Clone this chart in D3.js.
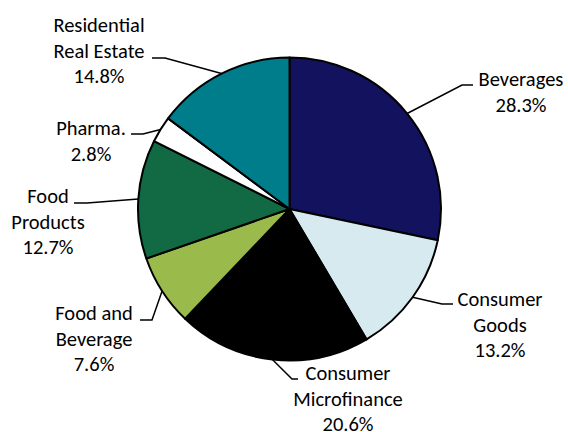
<!DOCTYPE html>
<html>
<head>
<meta charset="utf-8">
<script src="https://cdn.jsdelivr.net/npm/d3@7"></script>
<style>
  html, body { margin: 0; padding: 0; background: #fff; }
</style>
</head>
<body>
<div id="chart"></div>
<script>
// data
const categories = ["Beverages", "Consumer Goods", "Consumer Microfinance", "Food and Beverage", "Food Products", "Pharma.", "Residential Real Estate"]
const shares = [28.3, 13.2, 20.6, 7.6, 12.7, 2.8, 14.8]
const colors = ["#12125f", "#d6eaf0", "#000000", "#9aba4c", "#126a44", "#ffffff", "#007d8b"]
const labelLines = [["Beverages"], ["Consumer", "Goods"], ["Consumer", "Microfinance"], ["Food and", "Beverage"], ["Food", "Products"], ["Pharma."], ["Residential", "Real Estate"]]

let width = 568
let height = 432
let cx = 289.5
let cy = 209
let radius = 151.5
let font_size = 20.5
let line_height = 25.5

// label layout: text centre, first baseline, leader elbow and end
let layout = [
  {x: 521, y: 86,  elbow: [462, 85],  end: [473, 85]},
  {x: 500, y: 306, elbow: [442, 304], end: [453, 304]},
  {x: 348, y: 380, elbow: [292, 379], end: [298, 379]},
  {x: 94,  y: 320, elbow: [152, 320], end: [140, 320]},
  {x: 48,  y: 203, elbow: [87, 203],  end: [74, 203]},
  {x: 91,  y: 135, elbow: [143, 134], end: [131, 134]},
  {x: 99,  y: 32,  elbow: [165, 58],  end: [152, 58]}
]

let items = categories.map((c, i) => ({name: c, value: shares[i], color: colors[i], lines: labelLines[i], pos: layout[i]}))

let svg = d3.select("#chart").append("svg")
  .attr("width", width)
  .attr("height", height)

let pie = d3.pie().sort(null).value(d => d.value)
let arc = d3.arc().innerRadius(0).outerRadius(radius)
let arcs = pie(items)

let g = svg.append("g").attr("transform", `translate(${cx},${cy})`)

g.selectAll("path")
  .data(arcs)
  .join("path")
  .attr("d", arc)
  .attr("fill", d => d.data.color)
  .attr("stroke", "#000")
  .attr("stroke-width", 2)
  .attr("stroke-linejoin", "round")

// leader lines from slice mid angle on the rim
svg.selectAll("polyline.leader")
  .data(arcs)
  .join("polyline")
  .attr("class", "leader")
  .attr("fill", "none")
  .attr("stroke", "#000")
  .attr("stroke-width", 1.5)
  .attr("points", d => {
    let a = (d.startAngle + d.endAngle) / 2
    let px = cx + radius * Math.sin(a)
    let py = cy - radius * Math.cos(a)
    let p = d.data.pos
    return [[px, py], p.elbow, p.end].map(q => q.join(",")).join(" ")
  })

// labels
let labels = svg.selectAll("text.label")
  .data(arcs)
  .join("text")
  .attr("class", "label")
  .attr("text-anchor", "middle")
  .attr("font-family", "Carlito, Lato, 'Open Sans', sans-serif")
  .attr("font-size", font_size)
  .attr("fill", "#000")

labels.each(function(d) {
  let t = d3.select(this)
  let lines = d.data.lines.concat([`${d.data.value.toFixed(1)}%`])
  lines.forEach((l, i) => {
    t.append("tspan")
      .attr("x", d.data.pos.x)
      .attr("y", d.data.pos.y + i * line_height)
      .text(l)
  })
})
</script>
</body>
</html>
